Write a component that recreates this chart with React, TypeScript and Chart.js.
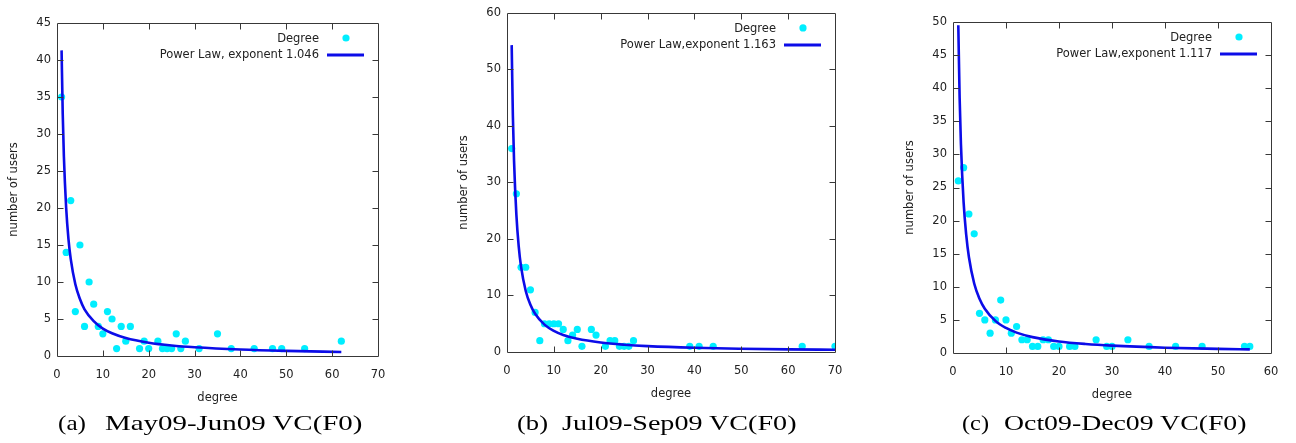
import React, { useEffect, useRef } from 'react';
import { Chart, registerables } from 'chart.js';

Chart.register(...registerables);

// ---------- data ----------
// (a) May09-Jun09
const degreeA = [1, 2, 3, 4, 5, 6, 7, 8, 9, 10, 11, 12, 13, 14, 15, 16, 18, 19, 20, 22, 23, 24, 25, 26, 27, 28, 31, 35, 38, 43, 47, 49, 54, 62];
const usersA = [35, 14, 21, 6, 15, 4, 10, 7, 4, 3, 6, 5, 1, 4, 2, 4, 1, 2, 1, 2, 1, 1, 1, 3, 1, 2, 1, 3, 1, 1, 1, 1, 1, 2];
const fitDegreeA = [1, 1.25, 1.5, 2, 2.5, 3, 4, 5, 6, 8, 10, 12, 15, 20, 25, 30, 40, 50, 62];
const fitUsersA = [41.3, 32.7, 27.0, 20.0, 15.8, 13.1, 9.7, 7.7, 6.3, 4.7, 3.7, 3.07, 2.43, 1.8, 1.42, 1.18, 0.87, 0.69, 0.55];

// (b) Jul09-Sep09
const degreeB = [1, 2, 3, 4, 5, 6, 7, 8, 9, 10, 11, 12, 13, 14, 15, 16, 18, 19, 21, 22, 23, 24, 25, 26, 27, 39, 41, 44, 63, 70];
const usersB = [36, 28, 15, 15, 11, 7, 2, 5, 5, 5, 5, 4, 2, 3, 4, 1, 4, 3, 1, 2, 2, 1, 1, 1, 2, 1, 1, 1, 1, 1];
const fitDegreeB = [1, 1.25, 1.5, 2, 2.5, 3, 4, 5, 6, 8, 10, 12, 15, 20, 25, 30, 40, 50, 60, 70];
const fitUsersB = [54.3, 41.9, 33.9, 24.3, 18.7, 15.1, 10.8, 8.35, 6.76, 4.84, 3.73, 3.02, 2.33, 1.67, 1.29, 1.04, 0.74, 0.57, 0.46, 0.39];

// (c) Oct09-Dec09
const degreeC = [1, 2, 3, 4, 5, 6, 7, 8, 9, 10, 11, 12, 13, 14, 15, 16, 17, 18, 19, 20, 22, 23, 27, 29, 30, 33, 37, 42, 47, 55, 56];
const usersC = [26, 28, 21, 18, 6, 5, 3, 5, 8, 5, 3, 4, 2, 2, 1, 1, 2, 2, 1, 1, 1, 1, 2, 1, 1, 2, 1, 1, 1, 1, 1];
const fitDegreeC = [1, 1.25, 1.5, 2, 2.5, 3, 4, 5, 6, 8, 10, 12, 15, 20, 25, 30, 40, 50, 56];
const fitUsersC = [49.5, 38.6, 31.5, 22.8, 17.8, 14.5, 10.5, 8.2, 6.69, 4.85, 3.78, 3.08, 2.4, 1.74, 1.36, 1.11, 0.8, 0.63, 0.55];

const legendPoints = 'Degree';
const legendFitA = 'Power Law, exponent 1.046';
const legendFitB = 'Power Law,exponent 1.163';
const legendFitC = 'Power Law,exponent 1.117';
const xTitle = 'degree';
const yTitle = 'number of users';
const captionLabels = ['(a)', '(b)', '(c)'];
const captionTexts = ['May09-Jun09 VC(F0)', 'Jul09-Sep09 VC(F0)', 'Oct09-Dec09 VC(F0)'];

// ---------- styling ----------
const PAGE_W = 1296;
const PAGE_H = 443;
const SANS = '"DejaVu Sans", sans-serif';
const FONT_SIZE = 11.5;
const TEXT_COLOR = '#222222';
const FRAME_COLOR = '#383838';
const POINT_COLOR = 'rgb(0, 238, 255)';
const LINE_COLOR = 'rgb(12, 12, 232)';
const X_BOX = 40;

type Panel = {
  canvasLeft: number;
  canvasW: number;
  area: { l: number; t: number; r: number; b: number };
  xMax: number;
  yMax: number;
  yStep: number;
  degree: number[];
  users: number[];
  fitDegree: number[];
  fitUsers: number[];
  fitLabel: string;
  caption: { label: string; text: string; labelX: [number, number]; textX: [number, number] };
};

const panels: Panel[] = [
  {
    canvasLeft: 0, canvasW: 430,
    area: { l: 57, t: 23, r: 378, b: 356 },
    xMax: 70, yMax: 45, yStep: 5,
    degree: degreeA, users: usersA, fitDegree: fitDegreeA, fitUsers: fitUsersA,
    fitLabel: legendFitA,
    caption: { label: captionLabels[0], text: captionTexts[0], labelX: [58, 86], textX: [105, 363] },
  },
  {
    canvasLeft: 430, canvasW: 450,
    area: { l: 77, t: 10, r: 405, b: 352 },
    xMax: 70, yMax: 60, yStep: 10,
    degree: degreeB, users: usersB, fitDegree: fitDegreeB, fitUsers: fitUsersB,
    fitLabel: legendFitB,
    caption: { label: captionLabels[1], text: captionTexts[1], labelX: [517, 548], textX: [562, 797] },
  },
  {
    canvasLeft: 880, canvasW: 416,
    area: { l: 73, t: 22, r: 391, b: 353 },
    xMax: 60, yMax: 50, yStep: 5,
    degree: degreeC, users: usersC, fitDegree: fitDegreeC, fitUsers: fitUsersC,
    fitLabel: legendFitC,
    caption: { label: captionLabels[2], text: captionTexts[2], labelX: [962, 989], textX: [1004, 1247] },
  },
];

function makeFramePlugin(fitLabel: string) {
  return {
    id: 'gnuFrame',
    afterDraw(chart: any) {
      const { ctx, chartArea: a, scales } = chart;
      const xs = scales.x;
      const ys = scales.y;
      const L = Math.round(a.left) + 0.5;
      const R = Math.round(a.right) + 0.5;
      const T = Math.round(a.top) + 0.5;
      const B = Math.round(a.bottom) + 0.5;
      ctx.save();
      ctx.strokeStyle = FRAME_COLOR;
      ctx.lineWidth = 1;
      ctx.beginPath();
      ctx.rect(L, T, R - L, B - T);
      ctx.stroke();
      const tl = 6;
      ctx.beginPath();
      xs.ticks.forEach((t: any) => {
        if (t.value <= xs.min || t.value >= xs.max) return;
        const px = Math.round(xs.getPixelForValue(t.value)) + 0.5;
        ctx.moveTo(px, B); ctx.lineTo(px, B - tl);
        ctx.moveTo(px, T); ctx.lineTo(px, T + tl);
      });
      ys.ticks.forEach((t: any) => {
        if (t.value <= ys.min || t.value >= ys.max) return;
        const py = Math.round(ys.getPixelForValue(t.value)) + 0.5;
        ctx.moveTo(L, py); ctx.lineTo(L + tl, py);
        ctx.moveTo(R, py); ctx.lineTo(R - tl, py);
      });
      ctx.stroke();

      // legend (inside, top right)
      ctx.font = `${FONT_SIZE}px ${SANS}`;
      ctx.fillStyle = TEXT_COLOR;
      ctx.textAlign = 'right';
      ctx.textBaseline = 'middle';
      const textRight = a.right - 59;
      const row1 = a.top + 16;
      const row2 = a.top + 32;
      ctx.fillText(legendPoints, textRight, row1);
      ctx.fillText(fitLabel, textRight, row2);
      ctx.fillStyle = POINT_COLOR;
      ctx.beginPath();
      ctx.arc(a.right - 32, row1 - 1, 3.6, 0, Math.PI * 2);
      ctx.fill();
      ctx.strokeStyle = LINE_COLOR;
      ctx.lineWidth = 3;
      ctx.beginPath();
      ctx.moveTo(a.right - 51, row2);
      ctx.lineTo(a.right - 14, row2);
      ctx.stroke();

      // axis titles
      ctx.fillStyle = TEXT_COLOR;
      ctx.textAlign = 'center';
      ctx.textBaseline = 'middle';
      ctx.fillText(xTitle, (a.left + a.right) / 2, a.bottom + 42);
      ctx.translate(a.left - 42.5, (a.top + a.bottom) / 2);
      ctx.rotate(-Math.PI / 2);
      ctx.fillText(yTitle, 0, 0);
      ctx.restore();
    },
  };
}

function PlotPanel({ p }: { p: Panel }) {
  const ref = useRef<HTMLCanvasElement>(null);
  useEffect(() => {
    if (!ref.current) return;
    const tickFont = { family: SANS, size: FONT_SIZE };
    const chart = new Chart(ref.current, {
      type: 'scatter',
      data: {
        datasets: [
          {
            label: p.fitLabel,
            data: p.fitDegree.map((x, i) => ({ x, y: p.fitUsers[i] })),
            showLine: true,
            borderColor: LINE_COLOR,
            borderWidth: 2.6,
            pointRadius: 0,
            cubicInterpolationMode: 'monotone',
            order: 0,
          } as any,
          {
            label: legendPoints,
            data: p.degree.map((x, i) => ({ x, y: p.users[i] })),
            backgroundColor: POINT_COLOR,
            borderWidth: 0,
            pointRadius: 3.6,
            order: 1,
          },
        ],
      },
      options: {
        responsive: false,
        devicePixelRatio: 1,
        animation: false,
        layout: {
          padding: {
            left: 0,
            top: p.area.t,
            right: p.canvasW - p.area.r,
            bottom: PAGE_H - p.area.b - X_BOX,
          },
        },
        plugins: { legend: { display: false }, tooltip: { enabled: false } },
        scales: {
          x: {
            type: 'linear',
            min: 0,
            max: p.xMax,
            afterFit: (s: any) => { s.height = X_BOX; },
            grid: { display: false, drawTicks: false },
            border: { display: false },
            ticks: { stepSize: 10, padding: 12, color: TEXT_COLOR, font: tickFont, autoSkip: false, maxRotation: 0 },
          },
          y: {
            type: 'linear',
            min: 0,
            max: p.yMax,
            afterFit: (s: any) => { s.width = p.area.l; },
            grid: { display: false, drawTicks: false },
            border: { display: false },
            ticks: { stepSize: p.yStep, padding: 6, color: TEXT_COLOR, font: tickFont, autoSkip: false },
          },
        },
      } as any,
      plugins: [makeFramePlugin(p.fitLabel)],
    });
    return () => chart.destroy();
  }, [p]);
  return (
    <canvas
      ref={ref}
      width={p.canvasW}
      height={PAGE_H}
      style={{ position: 'absolute', left: p.canvasLeft, top: 0, width: p.canvasW, height: PAGE_H }}
    />
  );
}

const CAP_FONT_SIZE = 21;
const CAP_FONT = `${CAP_FONT_SIZE}px "Liberation Serif", serif`;

function measure(text: string): number {
  const c = document.createElement('canvas').getContext('2d');
  if (!c) return text.length * 10;
  c.font = CAP_FONT;
  return c.measureText(text).width;
}

function CaptionPart({ text, x0, x1 }: { text: string; x0: number; x1: number }) {
  const w = measure(text);
  const s = (x1 - x0) / w;
  return (
    <span
      style={{
        position: 'absolute',
        left: x0,
        top: 413,
        font: CAP_FONT,
        lineHeight: `${CAP_FONT_SIZE}px`,
        whiteSpace: 'nowrap',
        color: '#000',
        transform: `scaleX(${s})`,
        transformOrigin: 'left top',
      }}
    >
      {text}
    </span>
  );
}

export default function App() {
  return (
    <div style={{ position: 'absolute', left: 0, top: 0, width: PAGE_W, height: PAGE_H, background: '#fff', overflow: 'hidden' }}>
      {panels.map((p, i) => (
        <React.Fragment key={i}>
          <PlotPanel p={p} />
          <CaptionPart text={p.caption.label} x0={p.caption.labelX[0]} x1={p.caption.labelX[1]} />
          <CaptionPart text={p.caption.text} x0={p.caption.textX[0]} x1={p.caption.textX[1]} />
        </React.Fragment>
      ))}
    </div>
  );
}
